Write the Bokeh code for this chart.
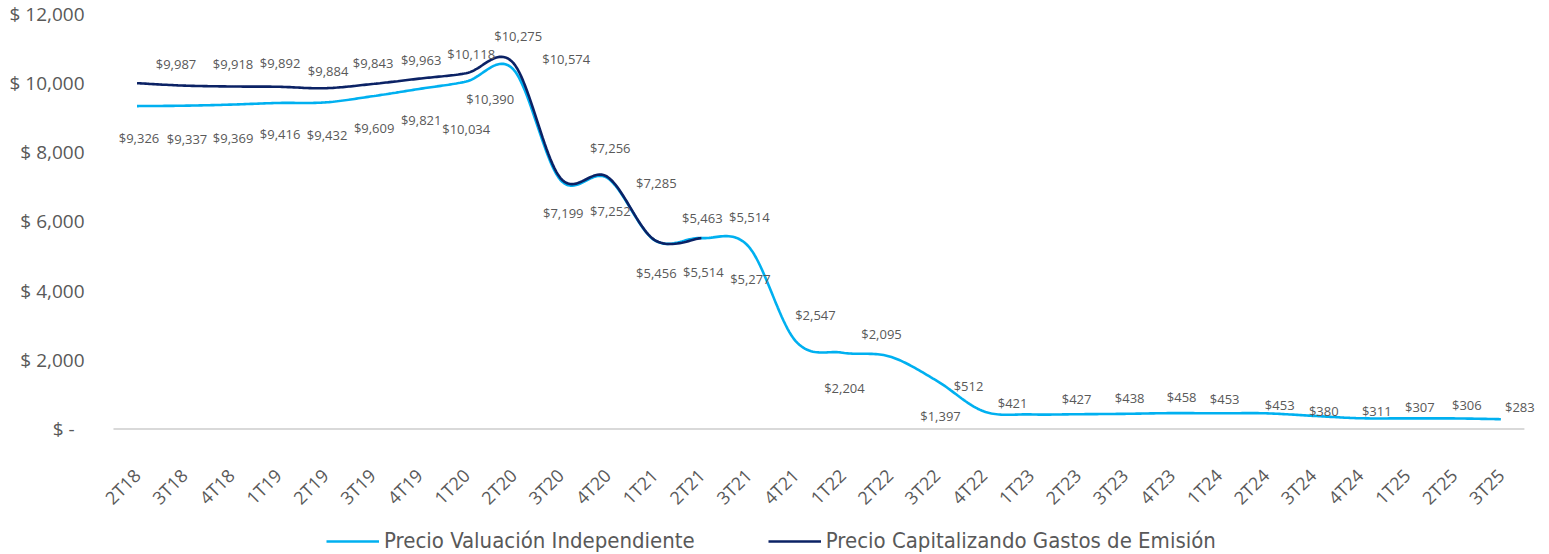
import numpy as np
from bokeh.plotting import figure
from bokeh.models import Range1d, Legend, LegendItem, ColumnDataSource
from bokeh.core.properties import value
from bokeh.embed import file_html
from bokeh.resources import INLINE

# ---------------- data ----------------
categories = ["2T18", "3T18", "4T18", "1T19", "2T19", "3T19", "4T19", "1T20", "2T20", "3T20",
              "4T20", "1T21", "2T21", "3T21", "4T21", "1T22", "2T22", "3T22", "4T22", "1T23",
              "2T23", "3T23", "4T23", "1T24", "2T24", "3T24", "4T24", "1T25", "2T25", "3T25"]

precio_valuacion = [9326, 9337, 9369, 9416, 9432, 9609, 9821, 10034, 10390, 7199,
                    7252, 5456, 5514, 5277, 2547, 2204, 2095, 1397, 512, 421,
                    427, 438, 458, 453, 453, 380, 311, 307, 306, 283]

precio_capitalizando = [9987, 9918, 9892, 9884, 9843, 9963, 10118, 10275, 10574, 7256,
                        7285, 5463, 5514]

y_ticks = [0, 2000, 4000, 6000, 8000, 10000, 12000]
y_tick_labels = ["$ -\u00a0\u00a0", "$ 2,000", "$ 4,000", "$ 6,000", "$ 8,000", "$ 10,000", "$ 12,000"]

series_names = ["Precio Valuación Independiente", "Precio Capitalizando Gastos de Emisión"]

# ---------------- style / layout ----------------
LIGHT = "#00B0F0"
DARK = "#0B2265"
TEXT = "#595959"

W, H = 1549, 554
TOP_PX = 13.0         # pixel row of the top tick (12,000)
ZERO_PX = 428.5       # pixel row of the zero baseline
FIRST_PX = 136.5      # pixel column of the first category
CAT_PX = 47.03        # pixels per category
Y_TOP_TICK = 12000
UPP = Y_TOP_TICK / (ZERO_PX - TOP_PX)          # data units per pixel (vertical)
Y_START = -(H - ZERO_PX) * UPP
Y_END = Y_TOP_TICK + TOP_PX * UPP
X_START = -FIRST_PX / CAT_PX
X_END = X_START + W / CAT_PX
YLABEL_RIGHT_PX = 84  # right edge of the y tick labels
CAT_LABEL_DROP_PX = 43

# label placement offsets in screen pixels (x right, y down)
light_dx = [2, 3, 2, 2, 2, 2, 2, 0, -23, 3, 3, 2, 2, 2, 20, 2, -8, 4, -15, -18,
            -1, 5, 10, 6, 14, 11, 17, 13, 13, 19]
light_dy = [32, 33, 33, 31, 33, 32, 31, 47, 30, 33, 33, 33, 34, 33, -26, 35, -22, 35, -25, -11,
            -15, -16, -16, -14, -8, -5, -7, -11, -13, -12]
dark_dx = [39, 49, 49, 50, 48, 49, 52, 52, 53, 50, 49, 48, 48]
dark_dy = [-19, -22, -23, -16, -25, -24, -25, -37, -4, -30, 6, -22, -21]


def smooth(ys, n=24):
    """Catmull-Rom style smoothing (as Excel's smoothed line)."""
    k = len(ys)
    xo, yo = [], []
    for i in range(k - 1):
        ip = i - 1 if i > 0 else i
        inx = i + 2 if i + 2 < k else i + 1
        x0, x1 = float(i), float(i + 1)
        y0, y1 = ys[i], ys[i + 1]
        c1x = x0 + (x1 - ip) / 6.0
        c1y = y0 + (y1 - ys[ip]) / 6.0
        c2x = x1 - (inx - x0) / 6.0
        c2y = y1 - (ys[inx] - y0) / 6.0
        t = np.linspace(0, 1, n, endpoint=(i == k - 2))
        a = (1 - t) ** 3
        b = 3 * (1 - t) ** 2 * t
        c = 3 * (1 - t) * t ** 2
        d = t ** 3
        xo.extend(a * x0 + b * c1x + c * c2x + d * x1)
        yo.extend(a * y0 + b * c1y + c * c2y + d * y1)
    return xo, yo


n = len(categories)
p = figure(width=W, height=H, output_backend="svg", toolbar_location=None,
           x_range=Range1d(X_START, X_END), y_range=Range1d(Y_START, Y_END),
           min_border_left=0, min_border_right=0, min_border_top=0, min_border_bottom=0)
p.outline_line_color = None
p.xgrid.visible = False
p.ygrid.visible = False
p.xaxis.visible = False
p.yaxis.visible = False
p.background_fill_color = "white"
p.border_fill_color = "white"

# category axis baseline (spans the categories only)
p.segment(x0=[-0.5], x1=[n - 0.5], y0=[0], y1=[0], line_color="#D9D9D9", line_width=2)

# value-axis tick labels
ytick_src = ColumnDataSource(dict(x=[X_START] * len(y_ticks), y=y_ticks, t=y_tick_labels))
p.text(x="x", y="y", text="t", source=ytick_src, x_offset=YLABEL_RIGHT_PX,
       text_font=value("Open Sans"), text_font_size="19px", text_color=TEXT,
       text_align="right", text_baseline="middle")

# category labels, rotated 45 degrees under the baseline
cat_src = ColumnDataSource(dict(x=list(range(n)), y=[-CAT_LABEL_DROP_PX * UPP] * n, t=categories))
p.text(x="x", y="y", text="t", source=cat_src, angle=np.pi / 4,
       text_font=value("Open Sans"), text_font_size="18px", text_color=TEXT,
       text_align="right", text_baseline="middle")

lx, ly = smooth(precio_valuacion)
dx_, dy_ = smooth(precio_capitalizando)
r_light = p.line(lx, ly, line_color=LIGHT, line_width=2.6)
r_dark = p.line(dx_, dy_, line_color=DARK, line_width=2.6)

# data labels
src_l = ColumnDataSource(dict(x=list(range(len(precio_valuacion))), y=precio_valuacion,
                              t=[f"${v:,}" for v in precio_valuacion], xo=light_dx, yo=light_dy))
src_d = ColumnDataSource(dict(x=list(range(len(precio_capitalizando))), y=precio_capitalizando,
                              t=[f"${v:,}" for v in precio_capitalizando], xo=dark_dx, yo=dark_dy))
for s in (src_l, src_d):
    p.text(x="x", y="y", text="t", x_offset="xo", y_offset="yo", source=s,
           text_font=value("Open Sans"), text_font_size="13px", text_color=TEXT,
           text_align="center", text_baseline="middle")

legend = Legend(items=[LegendItem(label=series_names[0], renderers=[r_light]),
                       LegendItem(label=series_names[1], renderers=[r_dark])],
                orientation="horizontal", location=(326, 1),
                padding=0, margin=0, spacing=73, glyph_width=53, glyph_height=20,
                label_standoff=5, label_text_font="DejaVu Sans Condensed",
                label_text_font_size="22px", label_text_color=TEXT,
                background_fill_alpha=0, border_line_color=None)
p.add_layout(legend)

open("out.html", "w").write(file_html(p, INLINE))
